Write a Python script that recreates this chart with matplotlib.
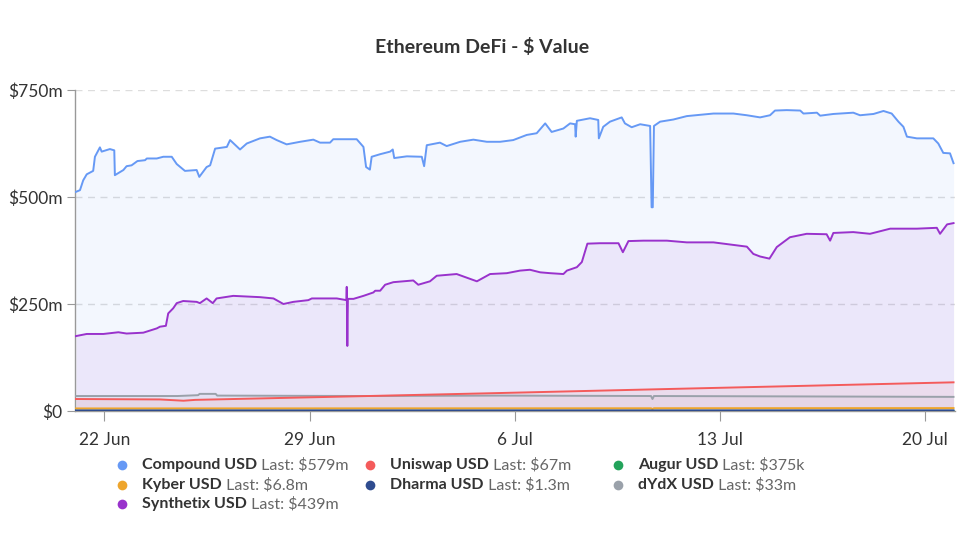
import matplotlib
matplotlib.use("Agg")
import matplotlib.pyplot as plt
from matplotlib.lines import Line2D
import pandas as pd
import numpy as np

# ---------------- data (days since 2020-06-21 00:00, values in $m) ----------------
start_date = "2020-06-21"

compound_days = [0.03, 0.17, 0.28, 0.40, 0.62, 0.68, 0.85, 0.91, 1.19, 1.34, 1.36, 1.65, 1.76, 1.93,
                 2.13, 2.39, 2.45, 2.79, 3.01, 3.30, 3.47, 3.75, 4.15, 4.24, 4.49, 4.61, 4.78, 5.18,
                 5.29, 5.63, 5.86, 6.31, 6.65, 6.88, 7.22, 7.68, 8.13, 8.36, 8.70, 8.81, 9.61, 9.84,
                 9.93, 10.06, 10.12, 10.41, 10.75, 10.84, 10.89, 11.32, 11.83, 11.91, 12.00, 12.45,
                 12.68, 13.14, 13.59, 14.05, 14.50, 14.95, 15.41, 15.75, 16.04, 16.26, 16.66, 16.89,
                 17.06, 17.08, 17.12, 17.57, 17.85, 17.87, 18.02, 18.25, 18.65, 18.76, 18.99, 19.28,
                 19.62, 19.67, 19.71, 19.75, 19.96, 20.41, 20.87, 21.32, 21.78, 22.46, 22.92, 23.37,
                 23.71, 23.88, 24.28, 24.74, 24.85, 25.31, 25.42, 25.87, 26.55, 26.78, 27.24, 27.58,
                 27.86, 28.09, 28.26, 28.38, 28.72, 29.28, 29.45, 29.62, 29.85, 29.97]
compound_vals = [512, 516, 539, 553, 561, 594, 616, 606, 612, 609, 551, 563, 572, 574,
                 584, 586, 590, 590, 594, 594, 577, 561, 563, 547, 570, 574, 613, 617,
                 633, 611, 625, 637, 641, 633, 623, 629, 634, 627, 627, 635, 635, 617,
                 570, 564, 594, 600, 606, 611, 591, 595, 594, 572, 621, 627,
                 619, 629, 634, 629, 629, 633, 645, 649, 672, 652, 660, 672,
                 670, 641, 678, 684, 680, 637, 664, 676, 686, 672, 663, 670,
                 666, 476, 476, 666, 676, 681, 689, 692, 695, 695, 691, 686,
                 691, 702, 703, 702, 695, 697, 690, 694, 697, 691, 694, 701,
                 695, 676, 664, 641, 637, 637, 625, 603, 602, 579]

synthetix_days = [0.03, 0.40, 0.97, 1.48, 1.76, 2.33, 2.56, 2.79, 2.90, 3.10, 3.18, 3.35, 3.47, 3.69,
                  4.15, 4.26, 4.49, 4.70, 4.83, 5.40, 6.31, 6.77, 7.11, 7.45, 7.96, 8.08, 8.93, 9.26,
                  9.27, 9.29, 9.31, 9.50, 9.84, 10.18, 10.24, 10.41, 10.58, 10.86, 11.54, 11.71, 12.11,
                  12.34, 13.02, 13.71, 14.16, 14.73, 15.18, 15.52, 15.87, 16.21, 16.66, 16.78, 17.12,
                  17.29, 17.48, 17.91, 18.54, 18.69, 18.88, 19.39, 20.19, 20.87, 21.78, 22.35, 22.92,
                  23.14, 23.37, 23.69, 23.94, 24.39, 24.96, 25.64, 25.76, 25.87, 26.55, 27.12, 27.81,
                  28.72, 29.40, 29.51, 29.75, 29.97]
synthetix_vals = [175, 180, 180, 184, 181, 183, 188, 193, 197, 199, 228, 240, 252, 257,
                  255, 252, 263, 252, 263, 269, 266, 263, 250, 255, 259, 263, 263, 259,
                  290, 152, 262, 262, 269, 277, 281, 281, 295, 301, 305, 295, 303,
                  316, 320, 303, 320, 322, 328, 330, 324, 322, 320, 328, 336,
                  348, 391, 392, 392, 371, 397, 398, 398, 394, 394, 389, 384,
                  367, 361, 356, 383, 406, 414, 413, 398, 416, 418, 414, 426,
                  426, 428, 414, 436, 439]

uniswap_days = [0.03, 2.90, 3.70, 4.10, 10.0, 14.5, 20.0, 25.0, 29.97]
uniswap_vals = [28, 27, 24, 26, 35, 42, 51, 59, 67]

dydx_days = [0.03, 3.50, 4.20, 4.25, 4.80, 4.85, 10.0, 14.5, 19.65, 19.70, 19.75, 25.0, 29.97]
dydx_vals = [35, 35, 37, 40, 40, 36, 35, 36, 35, 28, 35, 34, 33]

kyber_days = [0.03, 10.0, 19.65, 19.70, 19.75, 29.97]
kyber_vals = [6.0, 6.2, 6.4, 4.5, 6.5, 6.8]

dharma_days = [0.03, 15.0, 29.97]
dharma_vals = [1.2, 1.2, 1.3]

augur_days = [0.03, 15.0, 29.97]
augur_vals = [0.4, 0.4, 0.375]

series_names = ["Compound USD", "Uniswap USD", "Augur USD", "Kyber USD", "Dharma USD",
                "dYdX USD", "Synthetix USD"]
series_last = ["$579m", "$67m", "$375k", "$6.8m", "$1.3m", "$33m", "$439m"]
series_colors = ["#6699f5", "#f45b5b", "#23a35b", "#eea52c", "#2f4c8f", "#9aa1aa", "#9932cc"]

y_ticks = [0, 250, 500, 750]
y_tick_labels = ["$0", "$250m", "$500m", "$750m"]
x_tick_dates = ["2020-06-22", "2020-06-29", "2020-07-06", "2020-07-13", "2020-07-20"]
x_tick_labels = ["22 Jun", "29 Jun", "6 Jul", "13 Jul", "20 Jul"]
title = "Ethereum DeFi - $ Value"

# ---------------- plotting ----------------
plt.rcParams["font.family"] = ["Lato", "DejaVu Sans"]

fig = plt.figure(figsize=(9.65, 5.35), dpi=100)
ax = fig.add_axes([75 / 965, 1 - 411 / 535, 880 / 965, 321 / 535])

t0 = pd.Timestamp(start_date)
def to_t(days):
    return t0 + pd.to_timedelta(np.asarray(days), unit="D")

data = {
    "Compound USD": (compound_days, compound_vals),
    "Uniswap USD": (uniswap_days, uniswap_vals),
    "Augur USD": (augur_days, augur_vals),
    "Kyber USD": (kyber_days, kyber_vals),
    "Dharma USD": (dharma_days, dharma_vals),
    "dYdX USD": (dydx_days, dydx_vals),
    "Synthetix USD": (synthetix_days, synthetix_vals),
}
draw_order = ["Compound USD", "Synthetix USD", "dYdX USD", "Uniswap USD", "Kyber USD",
              "Augur USD", "Dharma USD"]
for name in draw_order:
    i = series_names.index(name)
    d, v = data[name]
    t = to_t(d)
    ax.fill_between(t, v, 0, color=series_colors[i], alpha=0.08, linewidth=0, zorder=1)
    ax.plot(t, v, color=series_colors[i], lw=1.4, zorder=3)

ax.set_ylim(0, 750)
ax.set_xlim(t0, t0 + pd.Timedelta(days=30.02))
ax.set_yticks(y_ticks)
ax.set_yticklabels(y_tick_labels)
ax.set_xticks(pd.to_datetime(x_tick_dates))
ax.set_xticklabels(x_tick_labels)

for y in y_ticks[1:]:
    ax.axhline(y, color="#dddddd", lw=1, ls=(0, (5, 4)), zorder=0)

for s in ["top", "right"]:
    ax.spines[s].set_visible(False)
for s in ["left", "bottom"]:
    ax.spines[s].set_color("#999999")
    ax.spines[s].set_linewidth(1)
ax.tick_params(axis="y", length=6, color="#999999", labelsize=12.5, labelcolor="#333333", pad=3)
ax.tick_params(axis="x", length=7, color="#999999", labelsize=12.5, labelcolor="#333333", pad=8)

fig.text(0.5, 1 - 47 / 535, title, ha="center", va="center", fontsize=14,
         fontweight="bold", color="#333333")

# legend (manual)
col_x = [122, 370, 618]
row_y = [465, 485, 504]
for i, (name, last) in enumerate(zip(series_names, series_last)):
    r, c = divmod(i, 3)
    x = col_x[c] / 965
    y = 1 - row_y[r] / 535
    fig.add_artist(Line2D([x], [y], transform=fig.transFigure, marker="o", markersize=7,
                          markerfacecolor=series_colors[i], markeredgewidth=0, linestyle="none"))
    txt = fig.text(x + 20 / 965, y, name, ha="left", va="center", fontsize=11.5,
                   fontweight="bold", color="#333333")
    ax.annotate(" Last: " + last, xy=(1, 0.5), xycoords=txt, ha="left", va="center",
                fontsize=11.5, color="#666666", annotation_clip=False)

fig.savefig("out.png", dpi=100, facecolor="white")
